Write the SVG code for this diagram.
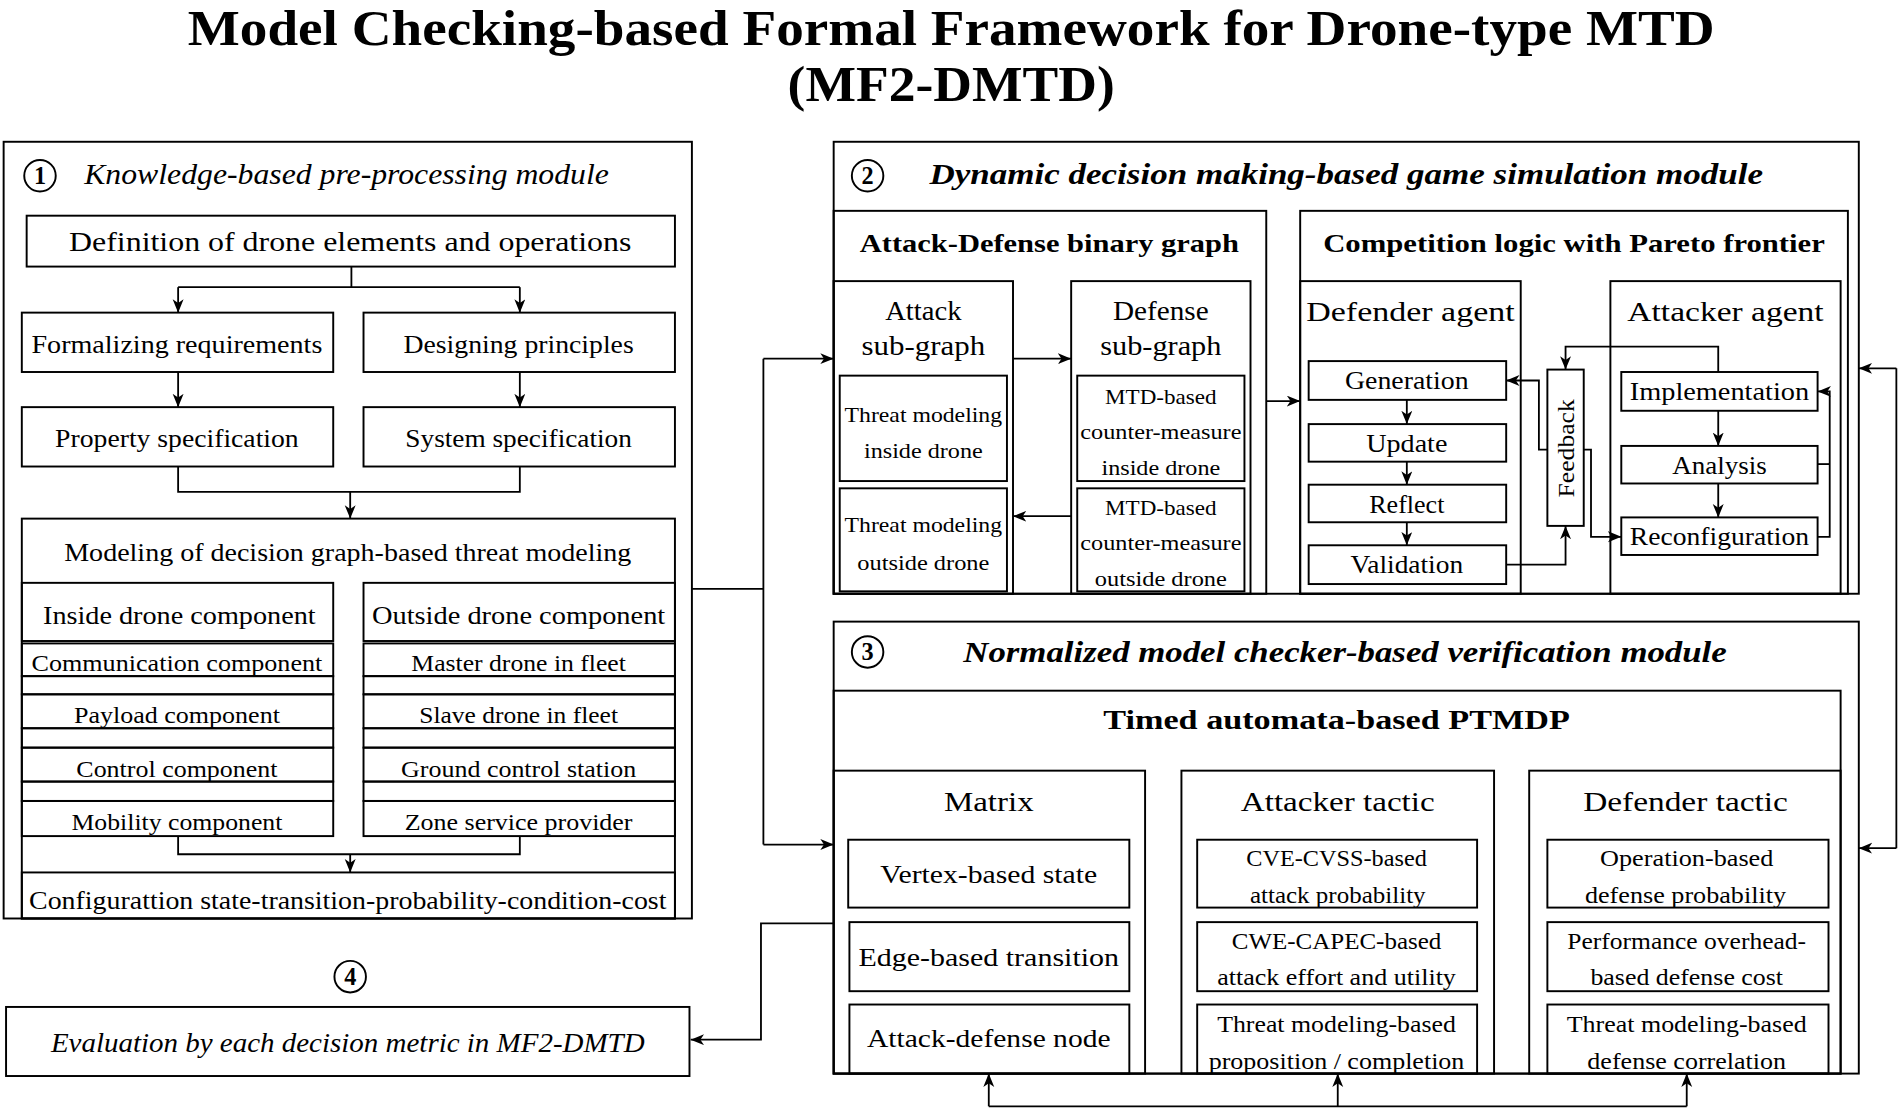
<svg xmlns="http://www.w3.org/2000/svg" width="1900" height="1112" viewBox="0 0 1900 1112">
<defs>
<style>
.b{fill:none;stroke:#000;stroke-width:1.6}
.ln{fill:none;stroke:#000;stroke-width:1.5}
.a{fill:none;stroke:#000;stroke-width:1.5;marker-end:url(#ah)}
text{font-family:"Liberation Serif","DejaVu Serif",serif;fill:#000;text-anchor:middle}
.r{font-size:21px}
.s{font-size:18.5px}
.xs{font-size:17px}
.bd{font-weight:bold}
.it{font-style:italic}
.cn{font-size:20px;font-weight:bold}
</style>
<marker id="ah" markerUnits="userSpaceOnUse" markerWidth="12" markerHeight="10" refX="11" refY="4.5" orient="auto">
<path d="M0,0 L11,4.5 L0,9 L3,4.5 z" fill="#000"/>
</marker>
</defs>
<rect width="1900" height="1112" fill="#fff"/>
<g transform="scale(1.21173)">
<g id="title">
<text class="bd" x="785" y="37" font-size="41" textLength="1260" lengthAdjust="spacingAndGlyphs">Model Checking-based Formal Framework for Drone-type MTD</text>
<text class="bd" x="785" y="83" font-size="41" textLength="270" lengthAdjust="spacingAndGlyphs">(MF2-DMTD)</text>
</g>

<g id="module1">
<rect class="b" x="3" y="117" width="568" height="641"/>
<circle class="b" cx="33" cy="145" r="13"/>
<text class="cn" x="33" y="152">1</text>
<text class="it" x="286" y="152" font-size="25" textLength="433" lengthAdjust="spacingAndGlyphs">Knowledge-based pre-processing module</text>
</g>
<g id="def">
<rect class="b" x="22" y="178" width="535" height="42"/>
<text x="289" y="207" font-size="22" textLength="464" lengthAdjust="spacingAndGlyphs">Definition of drone elements and operations</text>
</g>
<g id="formalizing">
<rect class="b" x="18" y="258" width="257" height="49"/>
<text class="r" x="146" y="291" textLength="240" lengthAdjust="spacingAndGlyphs">Formalizing requirements</text>
</g>
<g id="designing">
<rect class="b" x="300" y="258" width="257" height="49"/>
<text class="r" x="428" y="291" textLength="190" lengthAdjust="spacingAndGlyphs">Designing principles</text>
</g>
<g id="property">
<rect class="b" x="18" y="336" width="257" height="49"/>
<text class="r" x="146" y="369" textLength="201" lengthAdjust="spacingAndGlyphs">Property specification</text>
</g>
<g id="system">
<rect class="b" x="300" y="336" width="257" height="49"/>
<text class="r" x="428" y="369" textLength="187" lengthAdjust="spacingAndGlyphs">System specification</text>
</g>
<g id="modeling">
<rect class="b" x="18" y="428" width="539" height="330"/>
<text class="r" x="287" y="463" textLength="468" lengthAdjust="spacingAndGlyphs">Modeling of decision graph-based threat modeling</text>
</g>
<g id="inside-col">
<rect class="b" x="18" y="481" width="257" height="48"/>
<rect class="b" x="18" y="531" width="257" height="27"/>
<rect class="b" x="18" y="558" width="257" height="15"/>
<rect class="b" x="18" y="573" width="257" height="28"/>
<rect class="b" x="18" y="601" width="257" height="16"/>
<rect class="b" x="18" y="617" width="257" height="28"/>
<rect class="b" x="18" y="645" width="257" height="16"/>
<rect class="b" x="18" y="661" width="257" height="29"/>
<text class="r" x="148" y="515" textLength="225" lengthAdjust="spacingAndGlyphs">Inside drone component</text>
<text class="s" x="146" y="554" textLength="240" lengthAdjust="spacingAndGlyphs">Communication component</text>
<text class="s" x="146" y="597" textLength="170" lengthAdjust="spacingAndGlyphs">Payload component</text>
<text class="s" x="146" y="641" textLength="166" lengthAdjust="spacingAndGlyphs">Control component</text>
<text class="s" x="146" y="685" textLength="174" lengthAdjust="spacingAndGlyphs">Mobility component</text>
</g>
<g id="outside-col">
<rect class="b" x="300" y="481" width="257" height="48"/>
<rect class="b" x="300" y="531" width="257" height="27"/>
<rect class="b" x="300" y="558" width="257" height="15"/>
<rect class="b" x="300" y="573" width="257" height="28"/>
<rect class="b" x="300" y="601" width="257" height="16"/>
<rect class="b" x="300" y="617" width="257" height="28"/>
<rect class="b" x="300" y="645" width="257" height="16"/>
<rect class="b" x="300" y="661" width="257" height="29"/>
<text class="r" x="428" y="515" textLength="242" lengthAdjust="spacingAndGlyphs">Outside drone component</text>
<text class="s" x="428" y="554" textLength="177" lengthAdjust="spacingAndGlyphs">Master drone in fleet</text>
<text class="s" x="428" y="597" textLength="164" lengthAdjust="spacingAndGlyphs">Slave drone in fleet</text>
<text class="s" x="428" y="641" textLength="194" lengthAdjust="spacingAndGlyphs">Ground control station</text>
<text class="s" x="428" y="685" textLength="188" lengthAdjust="spacingAndGlyphs">Zone service provider</text>
</g>
<g id="config">
<rect class="b" x="18" y="720" width="539" height="38"/>
<text x="287" y="750" font-size="20" textLength="526" lengthAdjust="spacingAndGlyphs">Configurattion state-transition-probability-condition-cost</text>
</g>

<g id="module2">
<rect class="b" x="688" y="117" width="846" height="373"/>
<circle class="b" cx="716" cy="145" r="13"/>
<text class="cn" x="716" y="152">2</text>
<text class="bd it" x="1111" y="152" font-size="25" textLength="688" lengthAdjust="spacingAndGlyphs">Dynamic decision making-based game simulation module</text>
</g>
<g id="adgraph">
<rect class="b" x="688" y="174" width="357" height="316"/>
<text class="bd r" x="866" y="208" textLength="313" lengthAdjust="spacingAndGlyphs">Attack-Defense binary graph</text>
</g>
<g id="attack-sub">
<rect class="b" x="688" y="232" width="148" height="258"/>
<text x="762" y="264" font-size="22" textLength="63" lengthAdjust="spacingAndGlyphs">Attack</text>
<text x="762" y="293" font-size="22" textLength="102" lengthAdjust="spacingAndGlyphs">sub-graph</text>
</g>
<g id="threat-in">
<rect class="b" x="693" y="310" width="138" height="87"/>
<text class="xs" x="762" y="348" textLength="130" lengthAdjust="spacingAndGlyphs">Threat modeling</text>
<text class="xs" x="762" y="378" textLength="98" lengthAdjust="spacingAndGlyphs">inside drone</text>
</g>
<g id="threat-out">
<rect class="b" x="693" y="403" width="138" height="85"/>
<text class="xs" x="762" y="439" textLength="130" lengthAdjust="spacingAndGlyphs">Threat modeling</text>
<text class="xs" x="762" y="470" textLength="109" lengthAdjust="spacingAndGlyphs">outside drone</text>
</g>
<g id="defense-sub">
<rect class="b" x="884" y="232" width="148" height="258"/>
<text x="958" y="264" font-size="22" textLength="79" lengthAdjust="spacingAndGlyphs">Defense</text>
<text x="958" y="293" font-size="22" textLength="100" lengthAdjust="spacingAndGlyphs">sub-graph</text>
</g>
<g id="mtd-in">
<rect class="b" x="889" y="310" width="138" height="87"/>
<text class="xs" x="958" y="333" textLength="92" lengthAdjust="spacingAndGlyphs">MTD-based</text>
<text class="xs" x="958" y="362" textLength="133" lengthAdjust="spacingAndGlyphs">counter-measure</text>
<text class="xs" x="958" y="392" textLength="98" lengthAdjust="spacingAndGlyphs">inside drone</text>
</g>
<g id="mtd-out">
<rect class="b" x="889" y="403" width="138" height="85"/>
<text class="xs" x="958" y="425" textLength="92" lengthAdjust="spacingAndGlyphs">MTD-based</text>
<text class="xs" x="958" y="454" textLength="133" lengthAdjust="spacingAndGlyphs">counter-measure</text>
<text class="xs" x="958" y="484" textLength="109" lengthAdjust="spacingAndGlyphs">outside drone</text>
</g>
<g id="competition">
<rect class="b" x="1073" y="174" width="452" height="316"/>
<text class="bd r" x="1299" y="208" textLength="414" lengthAdjust="spacingAndGlyphs">Competition logic with Pareto frontier</text>
</g>
<g id="defender-agent">
<rect class="b" x="1073" y="232" width="182" height="258"/>
<text x="1164" y="265" font-size="23" textLength="172" lengthAdjust="spacingAndGlyphs">Defender agent</text>
</g>
<g id="generation"><rect class="b" x="1080" y="298" width="163" height="32"/><text x="1161" y="321" font-size="20" textLength="102" lengthAdjust="spacingAndGlyphs">Generation</text></g>
<g id="update"><rect class="b" x="1080" y="350" width="163" height="31"/><text x="1161" y="373" font-size="20" textLength="67" lengthAdjust="spacingAndGlyphs">Update</text></g>
<g id="reflect"><rect class="b" x="1080" y="400" width="163" height="31"/><text x="1161" y="423" font-size="20" textLength="62" lengthAdjust="spacingAndGlyphs">Reflect</text></g>
<g id="validation"><rect class="b" x="1080" y="450" width="163" height="32"/><text x="1161" y="473" font-size="20" textLength="93" lengthAdjust="spacingAndGlyphs">Validation</text></g>
<g id="feedback">
<rect class="b" x="1277" y="305" width="30" height="129"/>
<text x="0" y="0" font-size="19" transform="translate(1299,370) rotate(-90)" textLength="81" lengthAdjust="spacingAndGlyphs">Feedback</text>
</g>
<g id="attacker-agent">
<rect class="b" x="1329" y="232" width="190" height="258"/>
<text x="1424" y="265" font-size="23" textLength="162" lengthAdjust="spacingAndGlyphs">Attacker agent</text>
</g>
<g id="implementation"><rect class="b" x="1338" y="307" width="162" height="32"/><text x="1419" y="330" font-size="20" textLength="148" lengthAdjust="spacingAndGlyphs">Implementation</text></g>
<g id="analysis"><rect class="b" x="1338" y="368" width="162" height="31"/><text x="1419" y="391" font-size="20" textLength="78" lengthAdjust="spacingAndGlyphs">Analysis</text></g>
<g id="reconfiguration"><rect class="b" x="1338" y="427" width="162" height="31"/><text x="1419" y="450" font-size="20" textLength="148" lengthAdjust="spacingAndGlyphs">Reconfiguration</text></g>

<g id="module3">
<rect class="b" x="688" y="513" width="846" height="373"/>
<circle class="b" cx="716" cy="538" r="13"/>
<text class="cn" x="716" y="545">3</text>
<text class="bd it" x="1110" y="546" font-size="25" textLength="630" lengthAdjust="spacingAndGlyphs">Normalized model checker-based verification module</text>
</g>
<g id="timed">
<rect class="b" x="688" y="570" width="831" height="316"/>
<text class="bd" x="1103" y="602" font-size="23" textLength="385" lengthAdjust="spacingAndGlyphs">Timed automata-based PTMDP</text>
</g>
<g id="matrix">
<rect class="b" x="688" y="636" width="257" height="250"/>
<text x="816" y="669" font-size="23" textLength="74" lengthAdjust="spacingAndGlyphs">Matrix</text>
</g>
<g id="vertex"><rect class="b" x="700" y="693" width="232" height="56"/><text class="r" x="816" y="729" textLength="179" lengthAdjust="spacingAndGlyphs">Vertex-based state</text></g>
<g id="edge"><rect class="b" x="701" y="761" width="231" height="57"/><text class="r" x="816" y="797" textLength="215" lengthAdjust="spacingAndGlyphs">Edge-based transition</text></g>
<g id="adnode"><rect class="b" x="701" y="829" width="231" height="57"/><text class="r" x="816" y="864" textLength="201" lengthAdjust="spacingAndGlyphs">Attack-defense node</text></g>
<g id="attacker-tactic">
<rect class="b" x="975" y="636" width="258" height="250"/>
<text x="1104" y="669" font-size="23" textLength="160" lengthAdjust="spacingAndGlyphs">Attacker tactic</text>
</g>
<g id="cve"><rect class="b" x="988" y="693" width="231" height="56"/><text class="s" x="1103" y="715" textLength="149" lengthAdjust="spacingAndGlyphs">CVE-CVSS-based</text><text class="s" x="1104" y="745" textLength="145" lengthAdjust="spacingAndGlyphs">attack probability</text></g>
<g id="cwe"><rect class="b" x="988" y="761" width="231" height="57"/><text class="s" x="1103" y="783" textLength="173" lengthAdjust="spacingAndGlyphs">CWE-CAPEC-based</text><text class="s" x="1103" y="813" textLength="197" lengthAdjust="spacingAndGlyphs">attack effort and utility</text></g>
<g id="threat-prop"><rect class="b" x="988" y="829" width="231" height="57"/><text class="s" x="1103" y="852" textLength="197" lengthAdjust="spacingAndGlyphs">Threat modeling-based</text><text class="s" x="1103" y="882" textLength="211" lengthAdjust="spacingAndGlyphs">proposition / completion</text></g>
<g id="defender-tactic">
<rect class="b" x="1262" y="636" width="257" height="250"/>
<text x="1391" y="669" font-size="23" textLength="169" lengthAdjust="spacingAndGlyphs">Defender tactic</text>
</g>
<g id="op"><rect class="b" x="1277" y="693" width="232" height="56"/><text class="s" x="1392" y="715" textLength="143" lengthAdjust="spacingAndGlyphs">Operation-based</text><text class="s" x="1391" y="745" textLength="166" lengthAdjust="spacingAndGlyphs">defense probability</text></g>
<g id="perf"><rect class="b" x="1277" y="761" width="232" height="57"/><text class="s" x="1392" y="783" textLength="197" lengthAdjust="spacingAndGlyphs">Performance overhead-</text><text class="s" x="1392" y="813" textLength="159" lengthAdjust="spacingAndGlyphs">based defense cost</text></g>
<g id="threat-corr"><rect class="b" x="1277" y="829" width="232" height="57"/><text class="s" x="1392" y="852" textLength="198" lengthAdjust="spacingAndGlyphs">Threat modeling-based</text><text class="s" x="1392" y="882" textLength="164" lengthAdjust="spacingAndGlyphs">defense correlation</text></g>

<g id="module4">
<circle class="b" cx="289" cy="806" r="13"/>
<text class="cn" x="289" y="813">4</text>
<rect class="b" x="5" y="831" width="564" height="57"/>
<text class="it" x="287" y="868" font-size="22" textLength="490" lengthAdjust="spacingAndGlyphs">Evaluation by each decision metric in MF2-DMTD</text>
</g>

<g id="connectors">
<polyline class="ln" points="290,220 290,237"/>
<polyline class="ln" points="147,237 429,237"/>
<polyline class="a" points="147,237 147,258"/>
<polyline class="a" points="429,237 429,258"/>
<polyline class="a" points="147,307 147,336"/>
<polyline class="a" points="429,307 429,336"/>
<polyline class="ln" points="147,385 147,406 429,406 429,385"/>
<polyline class="a" points="289,406 289,428"/>
<polyline class="ln" points="147,690 147,705 429,705 429,690"/>
<polyline class="a" points="289,705 289,720"/>
<polyline class="ln" points="571,486 630,486"/>
<polyline class="ln" points="630,296 630,697"/>
<polyline class="a" points="630,296 688,296"/>
<polyline class="a" points="630,697 688,697"/>
<polyline class="a" points="688,762 628,762 628,858 570,858"/>
<polyline class="a" points="836,296 884,296"/>
<polyline class="a" points="884,426 836,426"/>
<polyline class="a" points="1045,331 1073,331"/>
<polyline class="a" points="1161,330 1161,350"/>
<polyline class="a" points="1161,381 1161,400"/>
<polyline class="a" points="1161,431 1161,450"/>
<polyline class="a" points="1418,339 1418,368"/>
<polyline class="a" points="1418,399 1418,427"/>
<polyline class="a" points="1418,307 1418,286 1292,286 1292,305"/>
<polyline class="a" points="1277,371 1270,371 1270,314 1243,314"/>
<polyline class="a" points="1307,371 1313,371 1313,443 1338,443"/>
<polyline class="a" points="1243,466 1292,466 1292,434"/>
<polyline class="ln" points="1500,383 1510,383"/>
<polyline class="a" points="1500,443 1510,443 1510,323 1500,323"/>
<polyline class="ln" points="1565,304 1565,700"/>
<polyline class="a" points="1565,304 1534,304"/>
<polyline class="a" points="1565,700 1534,700"/>
<polyline class="ln" points="816,913 1392,913"/>
<polyline class="a" points="816,913 816,886"/>
<polyline class="a" points="1104,913 1104,886"/>
<polyline class="a" points="1392,913 1392,886"/>
</g>
</g>
</svg>
